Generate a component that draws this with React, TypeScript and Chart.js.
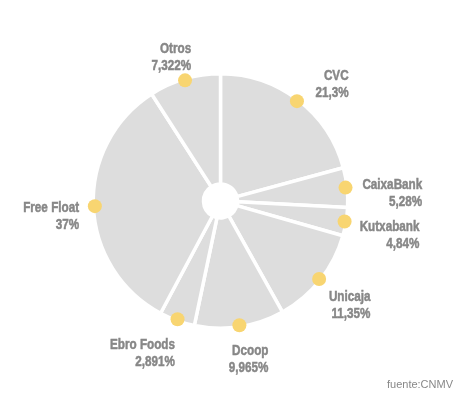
import React, { useEffect, useRef } from "react";
import { Chart, registerables } from "chart.js";

Chart.register(...registerables);

const categories = ["CVC", "CaixaBank", "Kutxabank", "Unicaja", "Dcoop", "Ebro Foods", "Free Float", "Otros"];
// percentages printed in the labels
const labelShares = [21.3, 5.28, 4.84, 11.35, 9.965, 2.891, 37, 7.322];
// slice sizes as drawn in the picture (%)
const sliceValues = [20.8, 5.0, 3.6, 12.5, 11.4, 4.5, 33.1, 9.1];
const sourceNote = "fuente:CNMV";

const SLICE_COLOR = "#dddddd";
const DOT_COLOR = "#f8d571";
const TEXT_COLOR = "#878787";
const LABEL_FONT = 'bold 15px "Liberation Sans", Arial, sans-serif';
const SQUEEZE = 0.78; // narrow the glyphs horizontally like a condensed face

const fmt = (v: number) => String(v).replace(".", ",") + "%";

const dotLabelPlugin = {
  id: "dotLabels",
  afterDatasetsDraw(chart: any) {
    const ctx = chart.ctx;
    const meta = chart.getDatasetMeta(0);
    ctx.save();
    meta.data.forEach((arc: any, i: number) => {
      const { x, y, startAngle, endAngle, outerRadius } = arc.getProps(
        ["x", "y", "startAngle", "endAngle", "outerRadius"],
        true
      );
      const mid = (startAngle + endAngle) / 2;
      const ux = Math.cos(mid);
      const uy = Math.sin(mid);
      const R = outerRadius - 1.5;
      const dx = x + ux * R;
      const dy = y + uy * R;
      ctx.beginPath();
      ctx.arc(dx, dy, 7, 0, Math.PI * 2);
      ctx.fillStyle = DOT_COLOR;
      ctx.fill();

      ctx.font = LABEL_FONT;
      const l1 = categories[i];
      const l2 = fmt(labelShares[i]);
      const w = Math.max(ctx.measureText(l1).width, ctx.measureText(l2).width) * SQUEEZE;
      const sgn = ux >= 0 ? 1 : -1;
      const cx = dx + ux * (w / 2 + 15) + 12 * sgn * Math.abs(uy) - 8 * uy;
      const cy = dy + 4 + 30 * uy + 5 * Math.abs(ux);
      const right = cx + w / 2;
      ctx.fillStyle = TEXT_COLOR;
      ctx.strokeStyle = TEXT_COLOR;
      ctx.lineWidth = 0.5;
      ctx.textAlign = "right";
      ctx.textBaseline = "middle";
      [l1, l2].forEach((txt, k) => {
        ctx.save();
        ctx.translate(right, cy + (k === 0 ? -8.5 : 8.5));
        ctx.scale(SQUEEZE, 1);
        ctx.fillText(txt, 0, 0);
        ctx.strokeText(txt, 0, 0);
        ctx.restore();
      });
    });
    ctx.restore();
  },
};

export default function App() {
  const ref = useRef<HTMLCanvasElement>(null);
  useEffect(() => {
    if (!ref.current) return;
    const chart = new Chart(ref.current, {
      type: "doughnut",
      data: {
        labels: categories,
        datasets: [
          {
            data: sliceValues,
            backgroundColor: SLICE_COLOR,
            borderColor: "#ffffff",
            borderWidth: 3.5,
            hoverOffset: 0,
          },
        ],
      },
      options: {
        responsive: false,
        animation: false,
        cutout: 17,
        layout: { padding: { left: 91.5, right: 118.5, top: 72, bottom: 68 } },
        plugins: {
          legend: { display: false },
          tooltip: { enabled: false },
          title: { display: false },
        },
        events: [],
      },
      plugins: [dotLabelPlugin],
    });
    return () => chart.destroy();
  }, []);

  return (
    <div style={{ position: "absolute", left: 0, top: 0, width: 468, height: 398, background: "#fff" }}>
      <canvas ref={ref} width={468} height={398} style={{ position: "absolute", left: 0, top: 0 }} />
      <div
        style={{
          position: "absolute",
          right: 15,
          top: 378,
          font: '11px "Liberation Sans", Arial, sans-serif',
          color: "#888888",
        }}
      >
        {sourceNote}
      </div>
    </div>
  );
}
